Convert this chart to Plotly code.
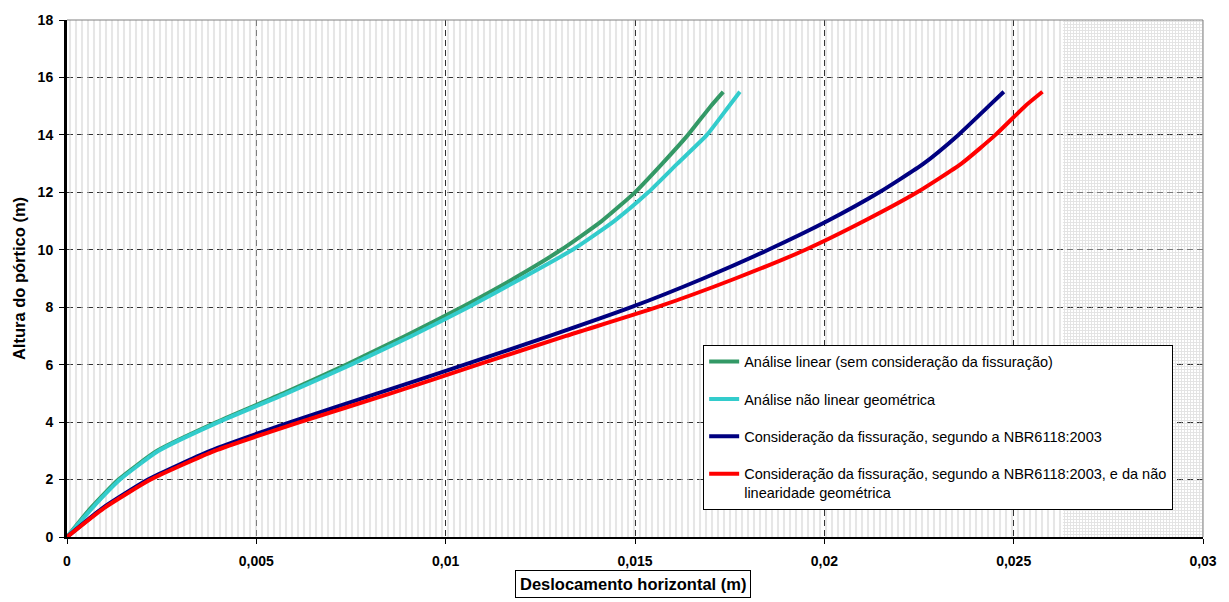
import plotly.graph_objects as go

# Storey heights (m)
heights = [0, 1, 2, 3, 4, 5, 6, 7, 8, 9, 10, 11, 12, 13, 14, 15, 15.5]

# Horizontal displacement (m) for each analysis
linear = [0, 0.00062, 0.00136, 0.00238, 0.00395, 0.00571, 0.00738, 0.00893,
          0.01042, 0.01180, 0.01305, 0.01412, 0.01500, 0.01572, 0.01640,
          0.01700, 0.01733]
geom_nl = [0, 0.00066, 0.00140, 0.00242, 0.00400, 0.00580, 0.00750, 0.00910,
           0.01060, 0.01200, 0.01335, 0.01445, 0.01535, 0.01612, 0.01690,
           0.01748, 0.01777]
cracked = [0, 0.00093, 0.00214, 0.00378, 0.00590, 0.00820, 0.01050, 0.01275,
           0.01490, 0.01680, 0.01852, 0.02008, 0.02145, 0.02262, 0.02354,
           0.02434, 0.02474]
cracked_nl = [0, 0.00097, 0.00221, 0.00390, 0.00615, 0.00855, 0.01085, 0.01318,
              0.01558, 0.01765, 0.01950, 0.02105, 0.02245, 0.02362, 0.02452,
              0.02530, 0.02576]

series_names = [
    "Análise linear (sem consideração da fissuração)",
    "Análise não linear geométrica",
    "Consideração da fissuração, segundo a NBR6118:2003",
    "Consideração da fissuração, segundo a NBR6118:2003, e da não<br>linearidade geométrica",
]
series_values = [linear, geom_nl, cracked, cracked_nl]
series_colors = ["#339966", "#33CCCC", "#000080", "#FF0000"]

x_ticks = [0, 0.005, 0.01, 0.015, 0.02, 0.025, 0.03]
x_tick_labels = ["0", "0,005", "0,01", "0,015", "0,02", "0,025", "0,03"]
y_ticks = [0, 2, 4, 6, 8, 10, 12, 14, 16, 18]
x_range = [0, 0.03]
y_range = [0, 18]
dense_from = 0.0263  # start of the denser background band

FONT = "Arial, Liberation Sans, sans-serif"

fig = go.Figure()

# textured plot-area background
fig.add_trace(go.Scatter(
    x=[x_range[0], dense_from, dense_from, x_range[0], x_range[0]],
    y=[y_range[0], y_range[0], y_range[1], y_range[1], y_range[0]],
    mode="none", fill="toself", fillcolor="rgba(0,0,0,0)",
    fillpattern=dict(shape="|", fgcolor="#cdcdcd", bgcolor="rgba(0,0,0,0)",
                     size=6, solidity=0.35),
    hoverinfo="skip", showlegend=False,
))
fig.add_trace(go.Scatter(
    x=[dense_from, x_range[1], x_range[1], dense_from, dense_from],
    y=[y_range[0], y_range[0], y_range[1], y_range[1], y_range[0]],
    mode="none", fill="toself", fillcolor="rgba(0,0,0,0)",
    fillpattern=dict(shape="+", fgcolor="#c8c8c8", bgcolor="rgba(0,0,0,0)",
                     size=3, solidity=0.55),
    hoverinfo="skip", showlegend=False,
))

for i, (name, vals, col) in enumerate(zip(series_names, series_values, series_colors)):
    fig.add_trace(go.Scatter(
        x=vals, y=heights, mode="lines", name=name,
        line=dict(color=col, width=4, shape="spline", smoothing=0.5),
        legendgroup=f"g{i}",
    ))

fig.update_layout(
    width=1229, height=602,
    margin=dict(l=67, r=26, t=18, b=65),
    paper_bgcolor="white", plot_bgcolor="white",
    font=dict(family=FONT, color="black"),
    separators=",.",
    showlegend=True,
    legend=dict(
        x=0.56, y=0.372, xanchor="left", yanchor="top",
        bgcolor="white", bordercolor="black", borderwidth=1,
        font=dict(family=FONT, size=14.5, color="black"),
        tracegroupgap=15.5, valign="top", itemwidth=30,
    ),
    xaxis=dict(
        range=x_range, tickvals=x_ticks, ticktext=x_tick_labels,
        showgrid=True, gridcolor="#303030", griddash="6px,4px", gridwidth=1,
        showline=True, linecolor="black", linewidth=2,
        ticks="outside", ticklen=5, tickcolor="black", ticklabelstandoff=5,
        tickfont=dict(family=FONT, size=14, color="black", weight="bold"),
        zeroline=False,
    ),
    yaxis=dict(
        range=y_range, tickvals=y_ticks,
        showgrid=True, gridcolor="#303030", griddash="6px,4px", gridwidth=1,
        showline=True, linecolor="black", linewidth=3,
        ticks="outside", ticklen=5, tickcolor="black", ticklabelstandoff=3,
        tickfont=dict(family=FONT, size=14, color="black", weight="bold"),
        zeroline=False,
        title=dict(text="Altura do pórtico (m)", standoff=8,
                   font=dict(family=FONT, size=16.5, color="black", weight="bold")),
    ),
    shapes=[
        dict(type="line", xref="paper", yref="paper", x0=0, x1=1, y0=1, y1=1,
             line=dict(color="#808080", width=1)),
        dict(type="line", xref="paper", yref="paper", x0=1, x1=1, y0=0, y1=1,
             line=dict(color="#808080", width=1)),
    ],
    annotations=[
        dict(text="Deslocamento horizontal (m)", xref="paper", yref="paper",
             x=0.498, y=-0.063, xanchor="center", yanchor="top", showarrow=False,
             font=dict(family=FONT, size=16.5, color="black", weight="bold"),
             bordercolor="black", borderwidth=1, borderpad=4, bgcolor="white"),
    ],
)

fig.write_html("out.html")
